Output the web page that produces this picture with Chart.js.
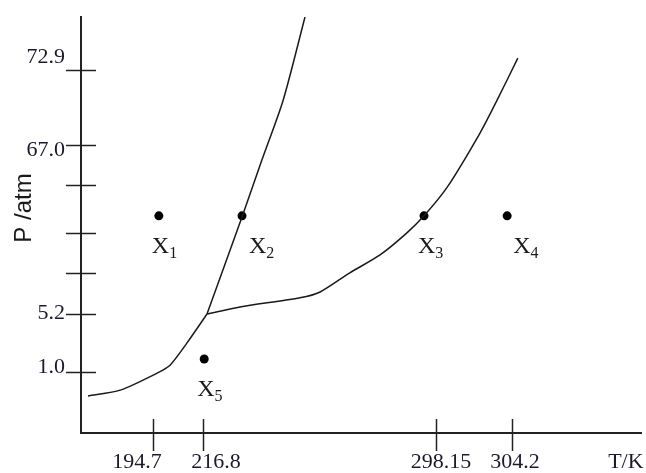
<!DOCTYPE html>
<html>
<head>
<meta charset="utf-8">
<script src="https://cdn.jsdelivr.net/npm/chart.js@4"></script>
<style>
  html, body { margin: 0; padding: 0; background: #fff; }
  #wrap { width: 646px; height: 473px; }
</style>
</head>
<body>
<div id="wrap"><canvas id="chart-phase"></canvas></div>
<script>
// Schematic axes (not to scale): positions are in axis units 0..100
const xTickPos = [12.86, 21.8, 63.4, 77.0];
const xLabels = ['194.7', '216.8', '298.15', '304.2', 'T/K'];
const xLabelPos = [10.0, 24.1, 64.3, 77.5, 97.3];

const yTickPos = [87.3, 69.2, 59.6, 48.1, 38.5, 28.6, 14.7];
const yLabels = ['72.9', '67.0', '5.2', '1.0'];
const yLabelPos = [90.4, 68.0, 28.8, 15.9];

// phase boundaries
const sublimT = [1.25, 7.0, 13.6, 15.9, 18.9, 22.5];
const sublimP = [8.9, 10.3, 14.4, 16.3, 21.6, 28.6];
const meltT = [22.5, 28.75, 32.3, 36.1, 40.0];
const meltP = [28.6, 51.9, 65.6, 80.0, 100];
const vapT = [22.5, 28.4, 39.1, 42.7, 48.0, 53.4, 58.2, 61.25, 65.4, 71.25, 74.3, 78.0];
const vapP = [28.6, 30.3, 32.5, 33.9, 38.5, 42.8, 48.1, 52.2, 59.1, 72.1, 80.0, 90.1];

// marked states
const pointNames = ['1', '2', '3', '4', '5'];
const pointT = [13.9, 28.75, 61.25, 76.1, 22.0];
const pointP = [52.2, 52.2, 52.2, 52.2, 17.8];

const zip = (xs, ys) => xs.map((x, i) => ({ x: x, y: ys[i] }));
const labelShift = [-7, 7, -6, 6, -7]; // label left edge relative to dot

const lineStyle = {
  type: 'line', showLine: true, borderColor: '#1a1a1a', borderWidth: 1.5,
  pointRadius: 0, tension: 0.25, fill: false
};

const noPad = s => { s.paddingTop = 0; s.paddingBottom = 0; s.paddingLeft = 0; s.paddingRight = 0; };

const axisMarks = {
  id: 'axisMarks',
  afterDraw(chart) {
    const c = chart.ctx, a = chart.chartArea;
    const xs = chart.scales.x, ys = chart.scales.y;
    c.save();
    c.strokeStyle = '#222';
    c.lineWidth = 1.5;
    xTickPos.forEach(v => {
      const px = Math.round(xs.getPixelForValue(v)) + 0.5;
      c.beginPath(); c.moveTo(px, a.bottom - 14); c.lineTo(px, a.bottom + 18); c.stroke();
    });
    yTickPos.forEach(v => {
      const py = Math.round(ys.getPixelForValue(v)) + 0.5;
      c.beginPath(); c.moveTo(a.left - 15, py); c.lineTo(a.left + 15, py); c.stroke();
    });
    // point labels X with subscript
    const meta = chart.getDatasetMeta(3);
    c.fillStyle = '#1a1a1a';
    c.textBaseline = 'alphabetic';
    meta.data.forEach((pt, i) => {
      const left = pt.x + labelShift[i];
      const base = pt.y + 37;
      c.font = '24px "Liberation Serif", "Times New Roman", serif';
      c.fillText('X', left, base);
      const w = c.measureText('X').width;
      c.font = '16px "Liberation Serif", "Times New Roman", serif';
      c.fillText(pointNames[i], left + w, base + 5);
    });
    // y axis title
    c.font = '24px "Liberation Sans", Arial, sans-serif';
    c.translate(31, 208);
    c.rotate(-Math.PI / 2);
    c.textAlign = 'center';
    c.fillText('P /atm', 0, 0);
    c.restore();
  }
};

new Chart(document.getElementById('chart-phase'), {
  type: 'scatter',
  data: {
    datasets: [
      Object.assign({ data: zip(sublimT, sublimP) }, lineStyle),
      Object.assign({ data: zip(meltT, meltP) }, lineStyle),
      Object.assign({ data: zip(vapT, vapP) }, lineStyle),
      {
        data: zip(pointT, pointP),
        pointRadius: 4.5, pointBackgroundColor: '#000', pointBorderWidth: 0, showLine: false
      }
    ]
  },
  options: {
    responsive: true,
    maintainAspectRatio: false,
    animation: false,
    layout: { padding: { top: 17, right: 5, left: 0, bottom: 0 } },
    plugins: { legend: { display: false }, tooltip: { enabled: false } },
    scales: {
      x: {
        type: 'linear', min: 0, max: 100,
        grid: { display: false, drawTicks: false },
        border: { display: true, color: '#222', width: 2 },
        afterFit: s => { s.height = 40; noPad(s); },
        afterBuildTicks: s => { s.ticks = xLabelPos.map(v => ({ value: v })); },
        ticks: {
          autoSkip: false, maxRotation: 0, padding: 16, color: '#1a1a2e',
          font: { family: '"Liberation Serif", "Times New Roman", serif', size: 22 },
          callback: (v, i) => xLabels[i]
        }
      },
      y: {
        type: 'linear', min: 0, max: 100,
        grid: { display: false, drawTicks: false },
        border: { display: true, color: '#222', width: 2 },
        afterFit: s => { s.width = 81; noPad(s); },
        afterBuildTicks: s => { s.ticks = yLabelPos.map(v => ({ value: v })); },
        ticks: {
          autoSkip: false, padding: 16, color: '#1a1a2e',
          font: { family: '"Liberation Serif", "Times New Roman", serif', size: 22 },
          callback: (v, i) => yLabels[i]
        }
      }
    }
  },
  plugins: [axisMarks]
});
</script>
</body>
</html>
